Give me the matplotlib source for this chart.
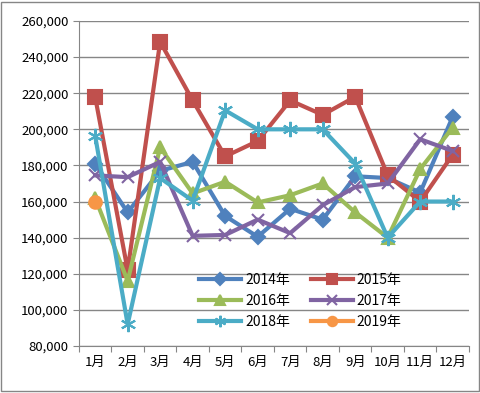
import numpy as np
import matplotlib
matplotlib.use("Agg")
from matplotlib import pyplot as plt
from matplotlib.ticker import FuncFormatter
from matplotlib.patches import Rectangle

plt.rcParams['font.family'] = ['Noto Sans CJK SC', 'DejaVu Sans']

months = ['1月', '2月', '3月', '4月', '5月', '6月', '7月', '8月', '9月', '10月', '11月', '12月']
y2014 = [181000, 154000, 177000, 182000, 152000, 140500, 156000, 150000, 174000, 173000, 165000, 207000]
y2015 = [218000, 122000, 248500, 216000, 185000, 193500, 216000, 208000, 218000, 174500, 160000, 186000]
y2016 = [162000, 116000, 190000, 164500, 171000, 159500, 163500, 170000, 154000, 140000, 178000, 201000]
y2017 = [174500, 173500, 182000, 141000, 141500, 150000, 142500, 158000, 168000, 170000, 194500, 188000]
y2018 = [196500, 92000, 173000, 160500, 210500, 200000, 200000, 200000, 181000, 140000, 160000, 160000]
y2019 = [160000]

series = [
    ('2014年', y2014, '#4F81BD', 'D', 7.5),
    ('2015年', y2015, '#C0504D', 's', 9.5),
    ('2016年', y2016, '#9BBB59', '^', 9),
    ('2017年', y2017, '#8064A2', 'x', 9),
    ('2018年', y2018, '#4BACC6', (6, 2, 0), 11),
    ('2019年', y2019, '#F79646', 'o', 9),
]

fig = plt.figure(figsize=(4.81, 3.93), dpi=100)
ax = fig.add_axes([0.164, 0.1196, 0.811, 0.827])

x = np.arange(12) + 0.5
lines = []
for name, vals, col, mk, ms in series:
    ln, = ax.plot(x[:len(vals)], vals, color=col, lw=3, marker=mk, markersize=ms,
                  markeredgecolor=col, markeredgewidth=1.5, label=name, zorder=3)
    lines.append(ln)

ax.set_xlim(0, 12)
ax.set_ylim(80000, 260000)
ax.set_yticks(np.arange(80000, 260001, 20000))
ax.yaxis.set_major_formatter(FuncFormatter(lambda v, p: '{:,.0f}'.format(v)))
ax.grid(axis='y', color='#868686', lw=1)
ax.set_axisbelow(True)

ax.set_xticks(np.arange(13))
ax.set_xticklabels([])
ax.set_xticks(x, minor=True)
ax.set_xticklabels(months, minor=True)
ax.tick_params(axis='x', which='major', length=4, color='#868686', direction='out')
ax.tick_params(axis='x', which='minor', length=0, labelsize=9.5, pad=7)
ax.tick_params(axis='y', length=4, color='#868686', labelsize=9.5)

for s in ['top', 'right']:
    ax.spines[s].set_visible(False)
for s in ['left', 'bottom']:
    ax.spines[s].set_color('#868686')

# row-wise legend order: matplotlib fills columns first
order = [0, 2, 4, 1, 3, 5]
ax.legend([lines[i] for i in order], [series[i][0] for i in order],
          ncol=2, loc='lower left', bbox_to_anchor=(0.277, 0.015), frameon=False,
          fontsize=10, handlelength=3.0, columnspacing=1.5, labelspacing=0.5,
          handletextpad=0.3, markerscale=0.75)

fig.patches.append(Rectangle((0.003, 0.004), 0.992, 0.99, transform=fig.transFigure,
                             fill=False, edgecolor='#868686', lw=1))

fig.savefig('out.png', dpi=100)
